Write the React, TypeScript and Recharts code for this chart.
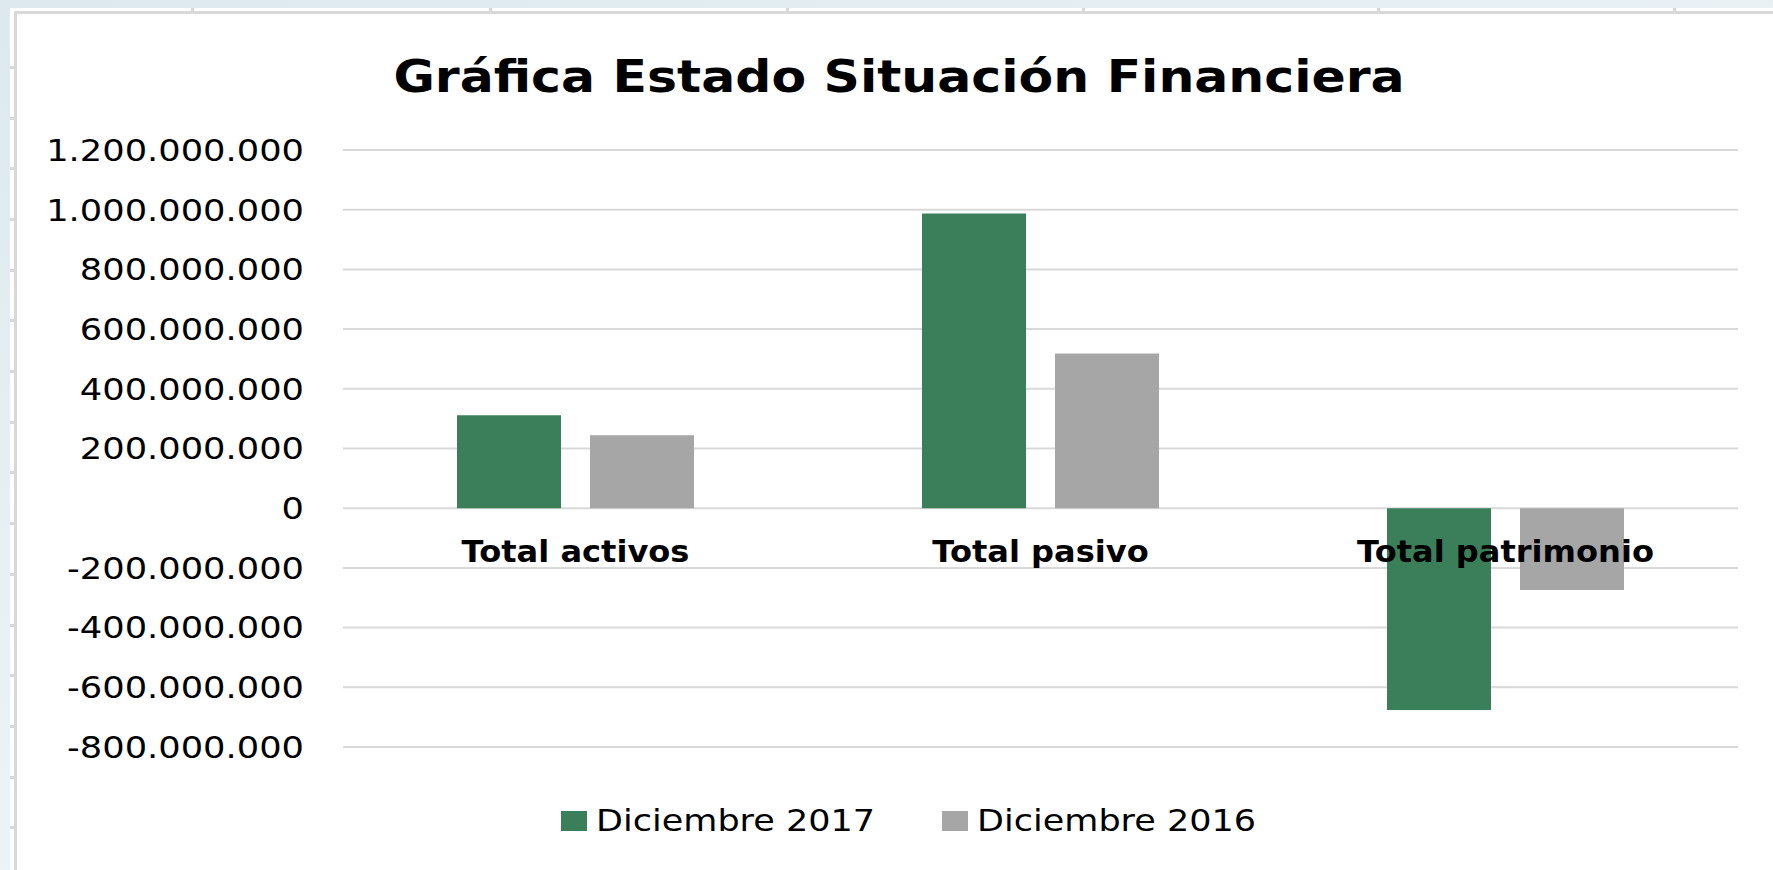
import React from "react";
import { BarChart, Bar, XAxis, YAxis, CartesianGrid } from "recharts";

const categories = ["Total activos", "Total pasivo", "Total patrimonio"];
const dic2017 = [311000000, 987000000, -676000000];
const dic2016 = [244000000, 518000000, -274000000];
const yTicks = [
  -800000000, -600000000, -400000000, -200000000, 0, 200000000, 400000000,
  600000000, 800000000, 1000000000, 1200000000,
];

const series = [
  { key: "d2017", name: "Diciembre 2017", color: "#3B7F5A" },
  { key: "d2016", name: "Diciembre 2016", color: "#A6A6A6" },
];

const data = categories.map((name, i) => ({
  name,
  d2017: dic2017[i],
  d2016: dic2016[i],
}));

const W = 1773;
const H = 870;
const M = { top: 150, right: 35, bottom: 93, left: 0 };
const X_AXIS_H = 30;
const Y_AXIS_W = 343;
const Y_MIN = -800000000;
const Y_MAX = 1200000000;
const FONT = "'DejaVu Sans', Verdana, sans-serif";

// spreadsheet gridline stubs peeking out behind the chart
const colMarks = [191, 489, 786, 1082, 1377, 1673];
const rowMarks = [66, 117, 167, 218, 269, 319, 370, 421, 471, 522, 573, 624, 674, 725, 776, 826];

const fmt = (v: number) => {
  const s = Math.abs(v)
    .toString()
    .replace(/\B(?=(\d{3})+(?!\d))/g, ".");
  return v < 0 ? "-" + s : s;
};

// the category labels sit just under the zero line, not at the bottom
const plotH = H - M.top - M.bottom - X_AXIS_H;
const zeroShift = (-plotH * (0 - Y_MIN)) / (Y_MAX - Y_MIN);

const XTick = (props: any) => {
  const { x, y, payload } = props;
  return (
    <text
      transform={`translate(${x} ${y + zeroShift + 54}) scale(1.07 1)`}
      textAnchor="middle"
      fontFamily={FONT}
      fontWeight="bold"
      fontSize={30}
      fill="#000"
    >
      {payload.value}
    </text>
  );
};

const YTick = (props: any) => {
  const { x, y, payload } = props;
  return (
    <text
      transform={`translate(${x} ${y}) scale(1.175 1)`}
      textAnchor="end"
      dy="0.36em"
      fontFamily={FONT}
      fontSize={30}
      fill="#000"
    >
      {fmt(payload.value)}
    </text>
  );
};

const App = () => {
  return (
    <div
      style={{
        position: "absolute",
        left: 0,
        top: 0,
        width: W,
        height: H,
        overflow: "hidden",
        background: "linear-gradient(160deg, #dde9ef 0%, #edf4f7 60%, #e6eff3 100%)",
      }}
    >
      <div style={{ position: "absolute", left: 10, top: 8, right: 0, bottom: 0, background: "#fff" }} />
      {colMarks.map((x) => (
        <div key={x} style={{ position: "absolute", left: x, top: 8, width: 3, height: 4, background: "#d9d9d9" }} />
      ))}
      {rowMarks.map((y) => (
        <div key={y} style={{ position: "absolute", left: 10, top: y, width: 5, height: 3, background: "#d9d9d9" }} />
      ))}
      <div
        style={{
          position: "absolute",
          left: 14,
          top: 11,
          width: W + 100,
          height: H + 100,
          border: "3px solid #d9d9d9",
        }}
      />
      <div style={{ position: "absolute", left: 0, top: 0 }}>
        <BarChart width={W} height={H} data={data} margin={M} barSize={104} barGap={29}>
          <CartesianGrid vertical={false} stroke="#d9d9d9" strokeWidth={2} />
          <YAxis
            type="number"
            domain={[Y_MIN, Y_MAX]}
            ticks={yTicks}
            interval={0}
            width={Y_AXIS_W}
            axisLine={false}
            tickLine={false}
            tickSize={0}
            tickMargin={39}
            tick={<YTick />}
          />
          {series.map((s) => (
            <Bar key={s.key} dataKey={s.key} name={s.name} fill={s.color} isAnimationActive={false} />
          ))}
          <XAxis
            dataKey="name"
            height={X_AXIS_H}
            axisLine={false}
            tickLine={false}
            tickSize={0}
            tickMargin={0}
            interval={0}
            tick={<XTick />}
          />
        </BarChart>
      </div>
      <svg width={W} height={H} style={{ position: "absolute", left: 0, top: 0, pointerEvents: "none" }}>
        <text
          transform="translate(899 92) scale(1.147 1)"
          textAnchor="middle"
          fontFamily={FONT}
          fontWeight="bold"
          fontSize={44}
          fill="#000"
        >
          Gráfica Estado Situación Financiera
        </text>
        {series.map((s, i) => (
          <g key={s.key} transform={`translate(${561 + i * 381} 811)`}>
            <rect x={0} y={0} width={26} height={20} fill={s.color} />
            <text
              transform="translate(35 20) scale(1.168 1)"
              fontFamily={FONT}
              fontSize={30}
              fill="#000"
            >
              {s.name}
            </text>
          </g>
        ))}
      </svg>
    </div>
  );
};

export default App;
